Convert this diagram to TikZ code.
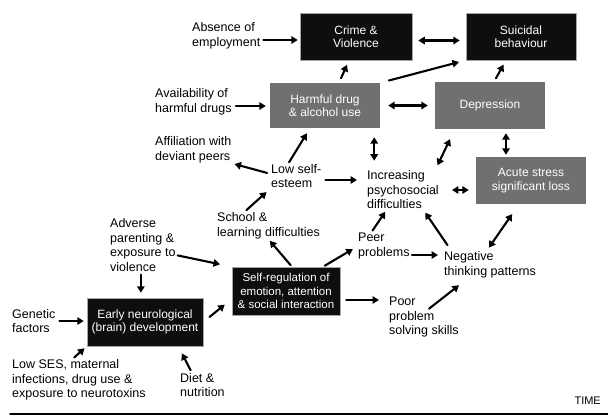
\documentclass[tikz,border=0pt]{standalone}
\usepackage{fontspec}
\setmainfont{Liberation Sans}
\usetikzlibrary{arrows.meta}
\definecolor{boxgray}{RGB}{112,112,112}
\definecolor{boxblack}{RGB}{14,14,14}
\begin{document}
\begin{tikzpicture}[x=1pt,y=-1pt,line cap=round,line join=round,
  lbl/.style={anchor=west,align=left,inner sep=0pt,font=\fontsize{12.5}{14.5}\selectfont},
  darkbox/.style={fill=boxblack,draw=gray!70,line width=0.5pt,text=white,align=center,inner sep=0pt,
    font=\fontsize{12}{13.5}\selectfont},
  graybox/.style={fill=boxgray,text=white,align=center,inner sep=0pt,
    font=\fontsize{12}{13.5}\selectfont},
  arr/.style={line width=2.1pt,-{Triangle[length=6.5pt,width=7.5pt]}},
  biarr/.style={line width=2.1pt,{Triangle[length=6.5pt,width=7.5pt]}-{Triangle[length=6.5pt,width=7.5pt]}}]
  \useasboundingbox (0,0) rectangle (608,416);
  % boxes
  \node[darkbox,minimum width=112pt,minimum height=47pt] (crime) at (356,36.5) {Crime \&\\Violence};
  \node[darkbox,minimum width=110pt,minimum height=47pt] (suicide) at (521,36.5) {Suicidal\\behaviour};
  \node[graybox,minimum width=110pt,minimum height=45pt] (harmful) at (325,105.5) {Harmful drug\\\& alcohol use};
  \node[graybox,minimum width=110pt,minimum height=47pt] (depression) at (490,105.5) {Depression};
  \node[graybox,minimum width=110pt,minimum height=47pt] (acute) at (531,180.5) {Acute stress\\significant loss};
  \node[darkbox,minimum width=116pt,minimum height=48pt] (early) at (145,322) {Early neurological\\(brain) development};
  \node[darkbox,minimum width=108pt,minimum height=48pt,font=\fontsize{11.5}{13.5}\selectfont] (selfreg) at (286,291) {Self-regulation of\\emotion, attention\\\& social interaction};
  % labels
  \node[lbl] (absence) at (192,36) {Absence of\\employment};
  \node[lbl] (avail) at (155,102) {Availability of\\harmful drugs};
  \node[lbl] (affil) at (155,150) {Affiliation with\\deviant peers};
  \node[lbl] (lowse) at (271,176) {Low self-\\esteem};
  \node[lbl] (incr) at (367,190) {Increasing\\psychosocial\\difficulties};
  \node[lbl] (school) at (217,226) {School \&\\learning difficulties};
  \node[lbl] (peer) at (358,246) {Peer\\problems};
  \node[lbl] (negative) at (444,265) {Negative\\thinking patterns};
  \node[lbl] (poor) at (389,317) {Poor\\problem\\solving skills};
  \node[lbl] (adverse) at (110,245) {Adverse\\parenting \&\\exposure to\\violence};
  \node[lbl] (genetic) at (12,321) {Genetic\\factors};
  \node[lbl] (lowses) at (12,380) {Low SES, maternal\\infections, drug use \&\\exposure to neurotoxins};
  \node[lbl] (diet) at (180,385) {Diet \&\\nutrition};
  \node[lbl,anchor=east,font=\fontsize{11}{12}\selectfont] (time) at (601,401) {TIME};
  % arrows
  \draw[arr,shorten <=3pt,shorten >=2pt] ([yshift=-4pt]absence.east) -- ([yshift=-4pt]absence.east -| crime.west);
  \draw[biarr,shorten <=6pt,shorten >=6pt] ([yshift=-4pt]crime.east) -- ([yshift=-4pt]suicide.west);
  \draw[arr,shorten <=5pt,shorten >=5pt] ([xshift=14pt]harmful.north) -- ([xshift=-7pt]crime.south);
  \draw[arr,shorten <=9pt,shorten >=7pt] (harmful.north east) -- (suicide.south west);
  \draw[biarr,shorten <=8pt,shorten >=7pt] (harmful.east) -- (depression.west);
  \draw[arr,shorten <=4pt,shorten >=5pt] ([xshift=4pt]depression.north) -- ([xshift=-15pt]suicide.south);
  \draw[arr,shorten <=4pt,shorten >=4pt] ([yshift=-4pt]avail.east) -- ([yshift=-4pt]avail.east -| harmful.west);
  \draw[arr,shorten <=2pt,shorten >=6pt] ([xshift=17pt]lowse.north west) -- ([xshift=-15pt]harmful.south);
  \draw[arr,shorten <=4pt,shorten >=3pt] ([yshift=2pt]lowse.west) -- (affil.south east);
  \draw[arr,shorten <=4pt,shorten >=6pt] ([xshift=-25pt]school.north) -- (lowse.south west);
  \draw[arr,shorten <=4pt,shorten >=10pt] ([yshift=-4pt]lowse.east) -- ([yshift=-4pt]lowse.east -| incr.west);
  \draw[biarr,shorten <=9pt,shorten >=10pt] ([xshift=-6pt]harmful.south east) -- ([xshift=-6pt]harmful.south east |- incr.north);
  \draw[biarr,shorten <=11pt,shorten >=6pt] ([xshift=20pt]depression.south west) -- ([xshift=-4pt]incr.north east);
  \draw[biarr,shorten <=4pt,shorten >=2pt] ([xshift=16pt]depression.south) -- ([xshift=16pt]depression.south |- acute.north);
  \draw[biarr,shorten <=13pt,shorten >=7pt] (incr.east) -- (incr.east -| acute.west);
  \draw[arr,shorten <=2pt,shorten >=2pt] ([xshift=6pt]selfreg.north) -- (school.south);
  \draw[arr,shorten <=2pt,shorten >=6pt] ([xshift=37pt]selfreg.north) -- (peer.west);
  \draw[arr,shorten <=3pt,shorten >=3pt] ([xshift=-13pt]peer.north) -- ([xshift=-16pt]incr.south);
  \draw[arr,shorten <=8pt,shorten >=4pt] ([xshift=8pt]negative.north west) -- ([xshift=20pt]incr.south);
  \draw[biarr,shorten <=5pt,shorten >=12pt] ([xshift=-4pt]negative.north) -- ([xshift=-12pt]acute.south);
  \draw[arr,shorten <=2pt,shorten >=6pt] ([yshift=-9pt]peer.east) -- ([yshift=-9pt]peer.east -| negative.west);
  \draw[arr] ([xshift=40pt,yshift=-12pt]poor.north west) -- ([xshift=15pt,yshift=-7pt]negative.south west);
  \draw[arr,shorten <=6pt,shorten >=10pt] ([yshift=-9pt]selfreg.east) -- ([yshift=-9pt]selfreg.east -| poor.west);
  \draw[arr,shorten <=2pt,shorten >=12pt] ([yshift=-10pt]adverse.east) -- (selfreg.north west);
  \draw[arr,shorten <=3pt,shorten >=5pt] ([xshift=-2pt]adverse.south) -- ([xshift=-2pt]adverse.south |- early.north);
  \draw[arr,shorten <=4pt,shorten >=3pt] (genetic.east) -- (genetic.east -| early.west);
  \draw[arr,shorten <=3pt,shorten >=3pt] ([xshift=60pt]lowses.north west) -- (early.south west);
  \draw[arr,shorten <=3pt,shorten >=8pt] ([xshift=12pt]diet.north west) -- ([xshift=-25pt]early.south east);
  \draw[arr,shorten <=8pt,shorten >=9pt] (early.east) -- ([yshift=-8pt]selfreg.west);
  % time axis
  \coordinate (t0) at (10,414);
  \coordinate (t1) at (608,414);
  \draw[line width=1.6pt] (t0) -- (t1);
\end{tikzpicture}
\end{document}
